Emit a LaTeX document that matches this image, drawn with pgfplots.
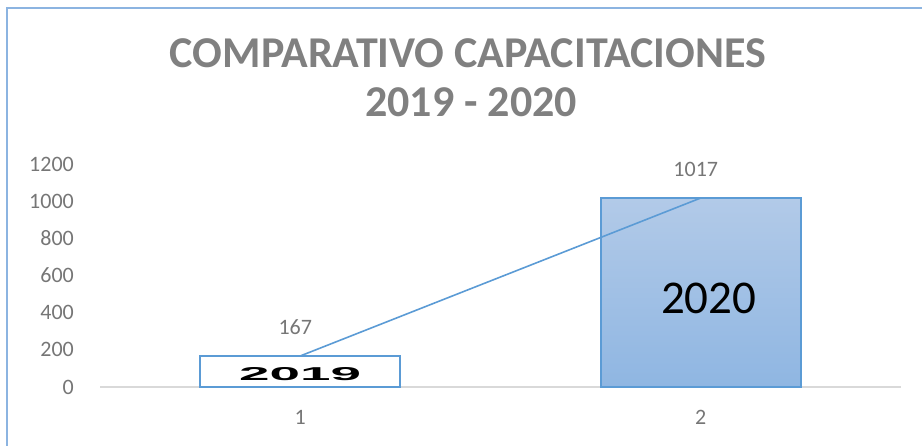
\documentclass[border=0pt]{standalone}
\usepackage{pgfplots}
\pgfplotsset{compat=1.18}
\usepackage{graphicx}
\usepackage{fontspec}
\setmainfont{Carlito}
\newfontfamily\arialfont{Liberation Sans}

\definecolor{xlblue}{RGB}{91,155,213}
\definecolor{frameblue}{RGB}{140,180,225}
\definecolor{bartop}{RGB}{178,202,232}
\definecolor{barbot}{RGB}{143,182,226}
\definecolor{txtgray}{RGB}{118,118,118}
\definecolor{titlegray}{RGB}{128,128,128}
\definecolor{axgray}{RGB}{217,217,217}

\pgfkeys{/pgf/number format/1000 sep={}}

\begin{document}
\begin{tikzpicture}
\useasboundingbox (0,0) rectangle (922pt,446pt);
\clip (0,0) rectangle (922pt,446pt);
% chart frame, cut off at right and bottom
\draw[frameblue, line width=1.5pt] (7pt,-20pt) rectangle (960pt,438pt);

% title
\node[anchor=base, font=\fontsize{44}{50}\selectfont\bfseries, text=titlegray]
  at (468pt,378pt) {COMPARATIVO CAPACITACIONES};
\node[anchor=base, font=\fontsize{44}{50}\selectfont\bfseries, text=titlegray]
  at (471pt,329pt) {2019 - 2020};

\begin{axis}[
    at={(100pt,59pt)}, anchor=south west,
    scale only axis,
    width=801pt, height=223pt,
    xmin=0.5, xmax=2.5,
    ymin=0, ymax=1200,
    xtick={1,2},
    ytick={0,200,400,600,800,1000,1200},
    axis x line*=bottom,
    axis y line*=left,
    y axis line style={draw=none},
    x axis line style={draw=axgray, line width=1.5pt},
    major tick length=0pt,
    tick label style={font=\fontsize{22}{26}\selectfont, text=txtgray},
    /pgf/number format/assume math mode=true,
    /pgf/number format/1000 sep={},
    yticklabel style={inner sep=0pt, xshift=-26pt},
    xticklabel style={inner sep=0pt, yshift=-23pt},
    clip=false,
]
% 2019 bar
\addplot[ybar, bar width=200pt, bar shift=0pt, draw=xlblue, line width=1.8pt, fill=white]
  coordinates {(1,167)};
% 2020 bar
\addplot[ybar, bar width=200pt, bar shift=0pt, draw=xlblue, line width=1.8pt,
         top color=bartop, bottom color=barbot]
  coordinates {(2,1017)};
% trend line with values
\addplot[xlblue, line width=1.6pt, mark=none,
    nodes near coords,
    every node near coord/.append style={anchor=center, yshift=29pt, xshift=-5pt,
        font=\fontsize{22}{26}\selectfont, text=txtgray}]
  coordinates {(1,167) (2,1017)};

\node at (axis cs:1,67) {\resizebox{122pt}{13pt}{\arialfont\bfseries 2019}};
\node at (axis cs:2.02,479) {\fontsize{47}{52}\selectfont 2020};
\end{axis}
\end{tikzpicture}
\end{document}
